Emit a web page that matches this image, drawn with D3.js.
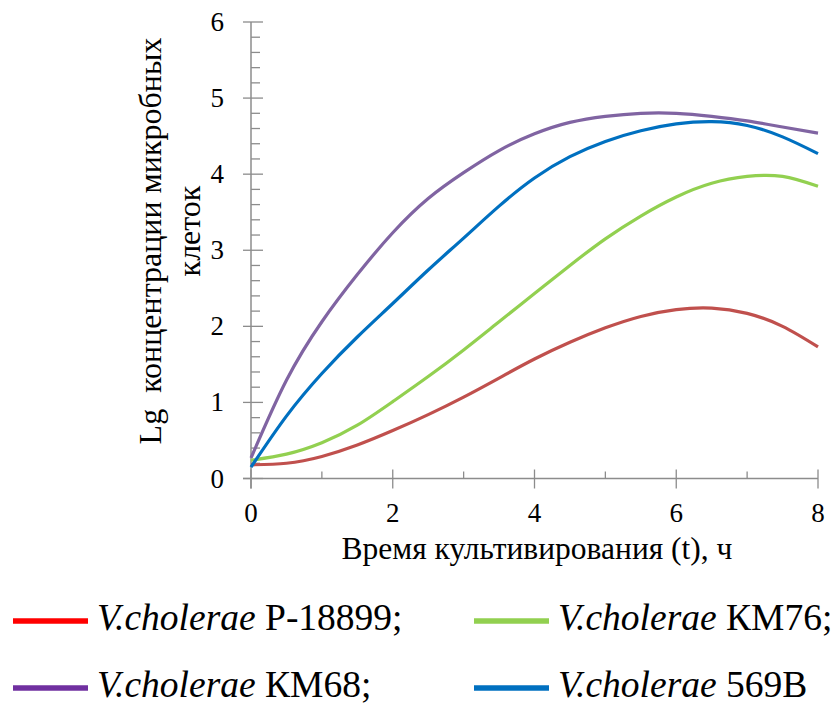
<!DOCTYPE html>
<html>
<head>
<meta charset="utf-8">
<script src="https://cdn.jsdelivr.net/npm/d3@7"></script>
<style>
  html, body { margin: 0; padding: 0; background: #fff; }
  svg { display: block; }
</style>
</head>
<body>
<svg id="chart" width="839" height="704"></svg>
<script>
// Time points, h
const hours = [0, 0.5, 1, 1.5, 2, 2.5, 3, 3.5, 4, 4.5, 5, 5.5, 6, 6.5, 7, 7.5, 8];

// Lg of microbial cell concentration for each strain
const strainP18899 = [0.18, 0.20, 0.29, 0.44, 0.63, 0.84, 1.07, 1.32, 1.57, 1.79, 1.98, 2.13, 2.22, 2.24, 2.17, 2.00, 1.73];
const strainKM76   = [0.24, 0.32, 0.47, 0.70, 1.01, 1.34, 1.69, 2.06, 2.43, 2.80, 3.15, 3.45, 3.70, 3.88, 3.97, 3.97, 3.84];
const strainKM68   = [0.27, 1.29, 2.06, 2.68, 3.23, 3.68, 4.02, 4.31, 4.53, 4.68, 4.76, 4.80, 4.80, 4.76, 4.70, 4.62, 4.54];
const strain569B   = [0.15, 0.82, 1.38, 1.86, 2.30, 2.74, 3.16, 3.58, 3.95, 4.23, 4.43, 4.57, 4.66, 4.69, 4.64, 4.49, 4.27];

const xTicks = [0, 2, 4, 6, 8];
const yTicks = [0, 1, 2, 3, 4, 5, 6];

const series = [
  { name: "P-18899;", values: strainP18899, line: "#c0504d", key: "#ff0000" },
  { name: "КМ76;",    values: strainKM76,   line: "#92d050", key: "#92d050" },
  { name: "КМ68;",    values: strainKM68,   line: "#8064a2", key: "#7030a0" },
  { name: "569В",     values: strain569B,   line: "#0070c0", key: "#0070c0" }
];

const serif = "'Liberation Serif', 'Times New Roman', 'DejaVu Serif', serif";
const svg = d3.select("#chart");
const axisColor = "#8c8c8c";

const x = d3.scaleLinear().domain([0, 8]).range([251, 818]);
const y = d3.scaleLinear().domain([0, 6]).range([478.5, 22]);

// Minor ticks (inside only)
const xMinor = d3.range(0, 8.001, 1).filter(v => v % 2 !== 0);
const yMinor = d3.range(0, 6.001, 0.2).filter(v => Math.abs(v - Math.round(v)) > 1e-6);

const g = svg.append("g");

g.selectAll(".xminor").data(xMinor).join("line")
  .attr("x1", d => x(d)).attr("x2", d => x(d))
  .attr("y1", y(0)).attr("y2", y(0) - 7)
  .attr("stroke", axisColor).attr("stroke-width", 1.3);

g.selectAll(".yminor").data(yMinor).join("line")
  .attr("x1", x(0)).attr("x2", x(0) + 9)
  .attr("y1", d => y(d)).attr("y2", d => y(d))
  .attr("stroke", axisColor).attr("stroke-width", 1.3);

// Major ticks cross the axis lines
g.selectAll(".xmajor").data(xTicks).join("line")
  .attr("x1", d => x(d)).attr("x2", d => x(d))
  .attr("y1", y(0) - 9).attr("y2", y(0) + 10)
  .attr("stroke", axisColor).attr("stroke-width", 1.3);

g.selectAll(".ymajor").data(yTicks).join("line")
  .attr("x1", x(0) - 8).attr("x2", x(0) + 12)
  .attr("y1", d => y(d)).attr("y2", d => y(d))
  .attr("stroke", axisColor).attr("stroke-width", 1.3);

// Axis lines
g.append("line").attr("x1", x(0)).attr("x2", x(0))
  .attr("y1", y(0) + 10).attr("y2", y(6))
  .attr("stroke", axisColor).attr("stroke-width", 1.5);
g.append("line").attr("x1", x(0) - 8).attr("x2", x(8))
  .attr("y1", y(0)).attr("y2", y(0))
  .attr("stroke", axisColor).attr("stroke-width", 1.5);

// Tick labels
g.selectAll(".xlab").data(xTicks).join("text")
  .attr("x", d => x(d)).attr("y", 522)
  .attr("text-anchor", "middle").attr("font-size", 27)
  .attr("font-family", serif)
  .text(d => d);

g.selectAll(".ylab").data(yTicks).join("text")
  .attr("x", 224).attr("y", d => y(d) + 9)
  .attr("text-anchor", "end").attr("font-size", 27)
  .attr("font-family", serif)
  .text(d => d);

// Axis titles
g.append("text")
  .attr("x", 537).attr("y", 559)
  .attr("text-anchor", "middle").attr("font-size", 31.5)
  .attr("font-family", serif)
  .text("Время культивирования (t), ч");

const yTitle = g.append("g").attr("transform", "translate(0,241) rotate(-90)");
yTitle.append("text").attr("x", 0).attr("y", 161)
  .attr("text-anchor", "middle").attr("font-size", 32)
  .attr("font-family", serif)
  .attr("xml:space", "preserve")
  .text("Lg  концентрации микробных");
yTitle.append("text").attr("x", 10).attr("y", 200)
  .attr("text-anchor", "middle").attr("font-size", 32)
  .attr("font-family", serif)
  .text("клеток");

// Curves
const line = d3.line()
  .x((d, i) => x(hours[i]))
  .y(d => y(d))
  .curve(d3.curveNatural);

g.selectAll(".curve").data(series).join("path")
  .attr("d", d => line(d.values))
  .attr("fill", "none")
  .attr("stroke", d => d.line)
  .attr("stroke-width", 3.2)
  .attr("stroke-linejoin", "round");

// Legend
const legendPos = [
  { lx: 13, ly: 621 },
  { lx: 474, ly: 621 },
  { lx: 13, ly: 688 },
  { lx: 474, ly: 688 }
];

const legend = svg.append("g").selectAll("g").data(series).join("g")
  .attr("transform", (d, i) => `translate(${legendPos[i].lx},${legendPos[i].ly})`);

legend.append("line")
  .attr("x1", 0).attr("x2", 75).attr("y1", 0).attr("y2", 0)
  .attr("stroke", d => d.key).attr("stroke-width", 5.5);

const lt = legend.append("text")
  .attr("x", 84).attr("y", 9)
  .attr("font-size", 37.5)
  .attr("font-family", serif);
lt.append("tspan").attr("font-style", "italic").attr("font-family", serif).text("V.cholerae");
lt.append("tspan").attr("font-family", serif).text(d => " " + d.name);
</script>
</body>
</html>
